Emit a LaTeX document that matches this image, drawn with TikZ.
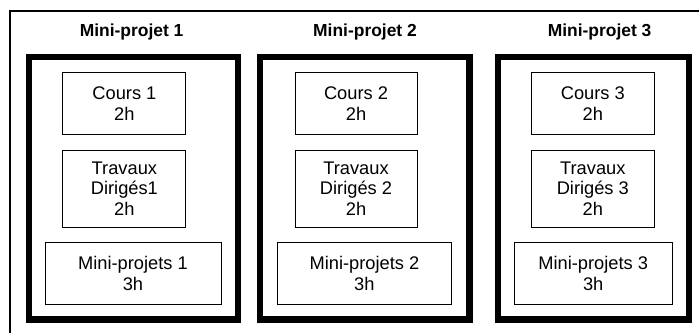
\documentclass[tikz,border=0pt]{standalone}
\usepackage{fontspec}
\setmainfont{Liberation Sans}
\tikzset{cadre/.style = {line width = 1.4pt}}
\tikzset{module/.style = {line width = 4.3pt}}
\tikzset{seance/.style = {draw, line width = 0.7pt, align = center, inner sep = 0,
                          minimum height = 1.5375cm, font = \fontsize{13}{14.8}\selectfont}}
\tikzset{titre/.style = {font = \fontsize{12.4}{14}\selectfont\bfseries}}
\begin{document}
\begin{tikzpicture}
      \useasboundingbox (0, 0) rectangle (17.475, 8.325);
      \draw [cadre] (0.24, 0) |- (17.475, 8.04);

      \draw [module] (0.725, 0.3375) rectangle (5.95, 6.9);
      \draw [module] (6.5, 0.3375) rectangle (11.7375, 6.9);
      \draw [module] (12.45, 0.3375) rectangle (17.225, 6.9);

      \node [titre] (titre1) at (3.29, 7.53) {Mini-projet 1};
      \node [seance, minimum width = 3.075cm] (cours1) at (3.11, 5.74) {Cours 1\\2h};
      \node [seance, minimum width = 3.075cm, minimum height = 1.925cm] (td1) at (3.11, 3.61) {Travaux\\Dirigés1\\2h};
      \node [seance, minimum width = 4.4cm] (mp1) at (3.325, 1.49) {Mini-projets 1\\3h};

      \node [titre] (titre2) at (9.125, 7.53) {Mini-projet 2};
      \node [seance, minimum width = 3.05cm] (cours2) at (8.9, 5.74) {Cours 2\\2h};
      \node [seance, minimum width = 3.05cm, minimum height = 1.925cm] (td2) at (8.9, 3.61) {Travaux\\Dirigés 2\\2h};
      \node [seance, minimum width = 4.36cm] (mp2) at (9.11, 1.49) {Mini-projets 2\\3h};

      \node [titre] (titre3) at (14.99, 7.53) {Mini-projet 3};
      \node [seance, minimum width = 3.06cm] (cours3) at (14.82, 5.74) {Cours 3\\2h};
      \node [seance, minimum width = 3.06cm, minimum height = 1.925cm] (td3) at (14.82, 3.61) {Travaux\\Dirigés 3\\2h};
      \node [seance, minimum width = 3.94cm] (mp3) at (14.83, 1.49) {Mini-projets 3\\3h};
\end{tikzpicture}
\end{document}
